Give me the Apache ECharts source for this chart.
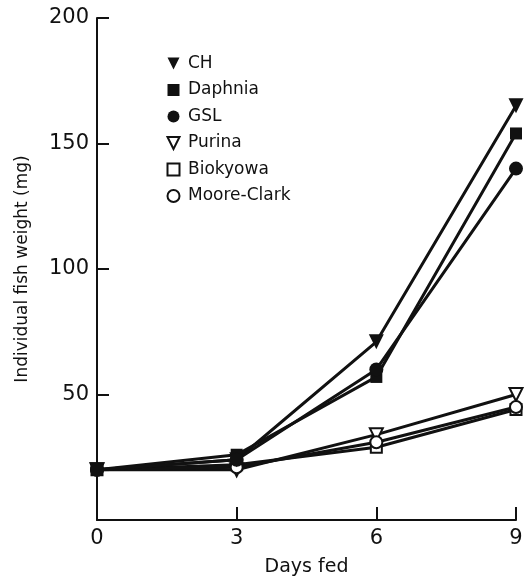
<!DOCTYPE html>
<html>
<head>
<meta charset="utf-8">
<script src="https://cdn.jsdelivr.net/npm/echarts@6/dist/echarts.min.js"></script>
<style>html,body{margin:0;padding:0;background:#fff;}#c{width:526px;height:582px;}</style>
</head>
<body>
<div id="c"></div>
<script>
const days = [0, 3, 6, 9];
const seriesNames = ['CH', 'Daphnia', 'GSL', 'Purina', 'Biokyowa', 'Moore-Clark'];
const ch = [20, 24, 71, 165];
const daphnia = [20, 26, 57, 154];
const gsl = [20, 24, 60, 140];
const purina = [20, 20, 34, 50];
const biokyowa = [20, 22, 29, 44];
const mooreClark = [20, 21, 31, 45];
const yTicks = [0, 50, 100, 150, 200];
const xTicks = [0, 3, 6, 9];

const values = [ch, daphnia, gsl, purina, biokyowa, mooreClark];
const symbols = ['triangle', 'rect', 'circle', 'triangle', 'rect', 'circle'];
const rot = [180, 0, 0, 180, 0, 0];
const filled = [true, true, true, false, false, false];
const sizes = [15, 12, 14, 13, 11, 12];
const FONT = 'DejaVu Sans';

const chart = echarts.init(document.getElementById('c'));
chart.setOption({
  animation: false,
  backgroundColor: '#fff',
  textStyle: { fontFamily: FONT, color: '#111' },
  grid: { left: 97, right: 10, top: 18, bottom: 61 },
  legend: {
    orient: 'vertical', left: 160, top: 50, itemGap: 9.5,
    itemWidth: 15, itemHeight: 15,
    lineStyle: { opacity: 0 },
    textStyle: { fontFamily: FONT, fontSize: 17, lineHeight: 15, color: '#111', padding: [0, 0, 0, 2] },
    data: seriesNames
  },
  xAxis: {
    type: 'value', min: 0, max: 9, interval: 3,
    name: 'Days fed', nameLocation: 'middle', nameGap: 38,
    nameTextStyle: { fontSize: 19, color: '#111' },
    axisLine: { lineStyle: { color: '#111', width: 2 } },
    axisTick: { inside: true, length: 13, lineStyle: { color: '#111', width: 2 } },
    axisLabel: { fontSize: 21, color: '#111', margin: 8 },
    splitLine: { show: false }
  },
  yAxis: {
    type: 'value', min: 0, max: 200, interval: 50,
    name: 'Individual fish weight (mg)', nameLocation: 'middle', nameGap: 66,
    nameTextStyle: { fontSize: 17, color: '#111' },
    axisLine: { show: true, lineStyle: { color: '#111', width: 2 } },
    axisTick: { show: true, inside: true, length: 12, lineStyle: { color: '#111', width: 2 } },
    axisLabel: { fontSize: 21, color: '#111', margin: 8, formatter: v => v === 0 ? '' : String(v) },
    splitLine: { show: false }
  },
  series: seriesNames.map((n, i) => ({
    name: n, type: 'line',
    data: days.map((d, j) => [d, values[i][j]]),
    symbol: symbols[i], symbolRotate: rot[i], symbolSize: sizes[i],
    showAllSymbol: true,
    lineStyle: { color: '#111', width: 3 },
    itemStyle: { color: filled[i] ? '#111' : '#fff', borderColor: '#111', borderWidth: filled[i] ? 0 : 2 },
    z: filled[i] ? 3 : 2
  }))
});
</script>
</body>
</html>
